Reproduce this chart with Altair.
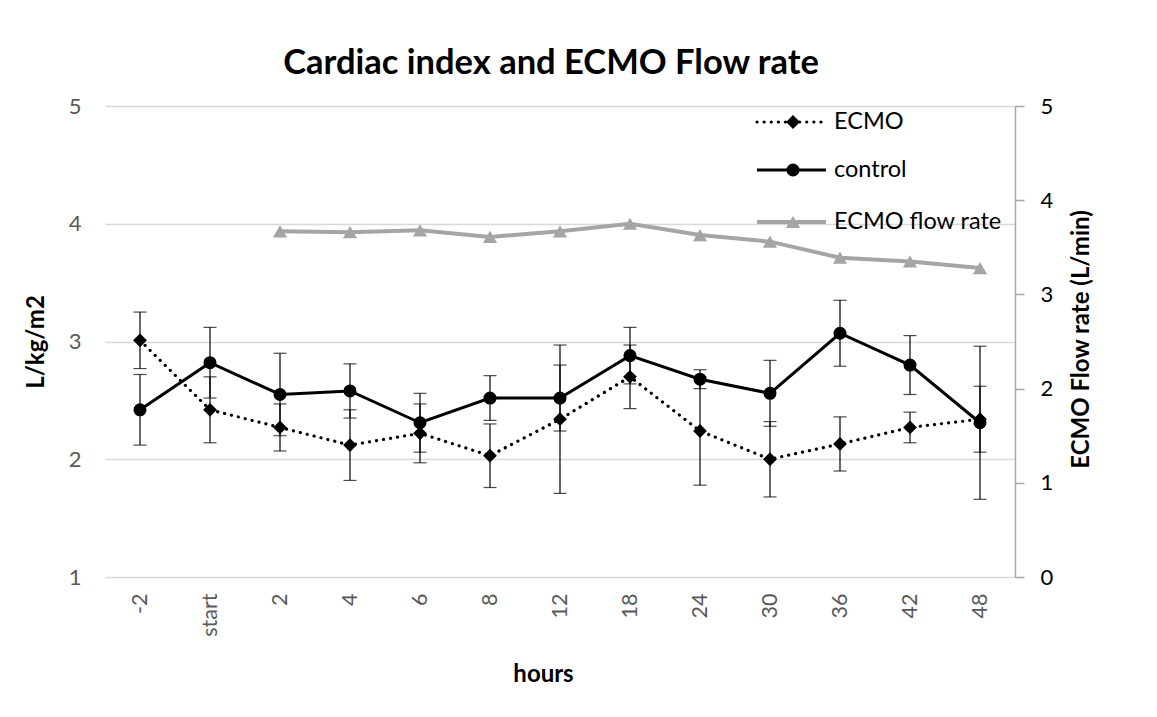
import altair as alt
import pandas as pd

hours = ["-2", "start", "2", "4", "6", "8", "12", "18", "24", "30", "36", "42", "48"]
ecmo = [3.01, 2.42, 2.27, 2.12, 2.22, 2.03, 2.34, 2.70, 2.24, 2.00, 2.13, 2.27, 2.34]
ecmo_err = [0.24, 0.28, 0.20, 0.30, 0.25, 0.27, 0.63, 0.27, 0.46, 0.32, 0.23, 0.13, 0.28]
control = [2.42, 2.82, 2.55, 2.58, 2.31, 2.52, 2.52, 2.88, 2.68, 2.56, 3.07, 2.80, 2.31]
control_err = [0.30, 0.30, 0.35, 0.23, 0.25, 0.19, 0.28, 0.24, 0.08, 0.28, 0.28, 0.25, 0.65]
flow_hours = ["2", "4", "6", "8", "12", "18", "24", "30", "36", "42", "48"]
flow = [3.67, 3.66, 3.68, 3.61, 3.67, 3.75, 3.63, 3.56, 3.39, 3.35, 3.28]
legend_labels = ["ECMO", "control", "ECMO flow rate"]

FONT = "Lato"

rows = []
for h, v, e in zip(hours, ecmo, ecmo_err):
    rows.append({"hour": h, "series": "ECMO", "value": v, "lo": v - e, "hi": v + e})
for h, v, e in zip(hours, control, control_err):
    rows.append({"hour": h, "series": "control", "value": v, "lo": v - e, "hi": v + e})
df = pd.DataFrame(rows)
df_ecmo = df[df.series == "ECMO"]
df_ctrl = df[df.series == "control"]
flow_df = pd.DataFrame({"hour": flow_hours, "flow": flow})
one = pd.DataFrame({"k": [0]})

x_enc = alt.X(
    "hour:N",
    sort=hours,
    scale=alt.Scale(type="point", domain=hours, padding=0.5),
    axis=alt.Axis(
        title="hours", labelAngle=270, labelAlign="right", labelBaseline="middle",
        labelColor="#595959", labelFontSize=21.5, labelFont=FONT, labelPadding=16,
        domain=False, ticks=False, grid=False,
        titleFont=FONT, titleFontSize=24, titleFontWeight="bold", titleColor="black",
        titlePadding=26, titleX=438,
    ),
)

yl_scale = alt.Scale(domain=[1, 5], nice=False, zero=False)
yl_axis = alt.Axis(
    title="L/kg/m2", values=[1, 2, 3, 4, 5], grid=True, gridColor="#d9d9d9", gridWidth=1.5,
    domain=False, ticks=False, labelColor="#595959", labelFontSize=22, labelFont=FONT,
    labelPadding=24, titleFont=FONT, titleFontSize=24, titleFontWeight="bold",
    titleColor="black", titlePadding=20,
)

base_e = alt.Chart(df_ecmo)
base_c = alt.Chart(df_ctrl)

def errbars(base):
    rule = base.mark_rule(color="black", strokeWidth=1.2).encode(
        x=x_enc, y=alt.Y("lo:Q", scale=yl_scale, axis=yl_axis), y2="hi:Q")
    tlo = base.mark_tick(color="black", size=13, thickness=1.2).encode(
        x=x_enc, y=alt.Y("lo:Q", scale=yl_scale, axis=yl_axis))
    thi = base.mark_tick(color="black", size=13, thickness=1.2).encode(
        x=x_enc, y=alt.Y("hi:Q", scale=yl_scale, axis=yl_axis))
    return [rule, tlo, thi]

ecmo_line = base_e.mark_line(color="black", strokeWidth=3.2, strokeDash=[0.1, 7],
                             strokeCap="round").encode(
    x=x_enc, y=alt.Y("value:Q", scale=yl_scale, axis=yl_axis))
ecmo_pts = base_e.mark_point(shape="diamond", filled=True, color="black", size=190,
                             opacity=1).encode(
    x=x_enc, y=alt.Y("value:Q", scale=yl_scale, axis=yl_axis))
ctrl_line = base_c.mark_line(color="black", strokeWidth=3).encode(
    x=x_enc, y=alt.Y("value:Q", scale=yl_scale, axis=yl_axis))
ctrl_pts = base_c.mark_point(shape="circle", filled=True, color="black", size=170,
                             opacity=1).encode(
    x=x_enc, y=alt.Y("value:Q", scale=yl_scale, axis=yl_axis))

# manual legend (inside plot, top right)
leg_y = [16, 64, 116]
def leg_entry(i, color, shape, dash, width, size):
    c = alt.Chart(one)
    line_kw = dict(color=color, strokeWidth=width)
    if dash:
        line_kw.update(strokeDash=dash, strokeCap="round")
    r = c.mark_rule(**line_kw).encode(x=alt.value(652), x2=alt.value(721), y=alt.value(leg_y[i]))
    p = c.mark_point(shape=shape, filled=True, color=color, size=size, opacity=1).encode(
        x=alt.value(688), y=alt.value(leg_y[i]))
    t = c.mark_text(align="left", baseline="middle", font=FONT, fontSize=23.5, color="black").encode(
        x=alt.value(729), y=alt.value(leg_y[i]), text=alt.value(legend_labels[i]))
    return [r, p, t]

legend_layers = (leg_entry(0, "black", "diamond", [0.1, 7], 3.2, 190)
                 + leg_entry(1, "black", "circle", None, 3, 170)
                 + leg_entry(2, "#a5a5a5", "triangle-up", None, 4, 200))

left = alt.layer(
    *errbars(base_e), *errbars(base_c), ecmo_line, ctrl_line, ecmo_pts, ctrl_pts,
    *legend_layers,
)

yr_scale = alt.Scale(domain=[0, 5], nice=False, zero=True)
yr_axis = alt.Axis(
    title="ECMO Flow rate (L/min)", orient="right", values=[0, 1, 2, 3, 4, 5], grid=False,
    domain=True, domainColor="#a6a6a6", domainWidth=1.5, ticks=True, tickColor="#a6a6a6",
    tickSize=9, tickWidth=1.5, labelColor="black", labelFontSize=22, labelFont=FONT,
    labelPadding=16, titleFont=FONT, titleFontSize=24, titleFontWeight="bold",
    titleColor="black", titleAngle=270, titleX=66, titleY=233,
    titleAlign="center", titleBaseline="middle",
)
fbase = alt.Chart(flow_df)
flow_line = fbase.mark_line(color="#a5a5a5", strokeWidth=4).encode(
    x=x_enc, y=alt.Y("flow:Q", scale=yr_scale, axis=yr_axis))
flow_pts = fbase.mark_point(shape="triangle-up", filled=True, color="#a5a5a5", size=200,
                            opacity=1).encode(
    x=x_enc, y=alt.Y("flow:Q", scale=yr_scale, axis=yr_axis))
right = alt.layer(flow_line, flow_pts)

chart = alt.layer(right, left).resolve_scale(y="independent").properties(
    width=910, height=471,
    title=alt.Title("Cardiac index and ECMO Flow rate", font=FONT, fontSize=34.5,
                    fontWeight="bold", color="black", anchor="middle", offset=14, dx=-9),
    padding={"left": 97, "top": 98, "right": 130, "bottom": 130},
    autosize=alt.AutoSizeParams(type="none"),
    background="white",
).configure_view(stroke=None)

chart.save("out.html", embed_options={"renderer": "svg", "actions": False})
